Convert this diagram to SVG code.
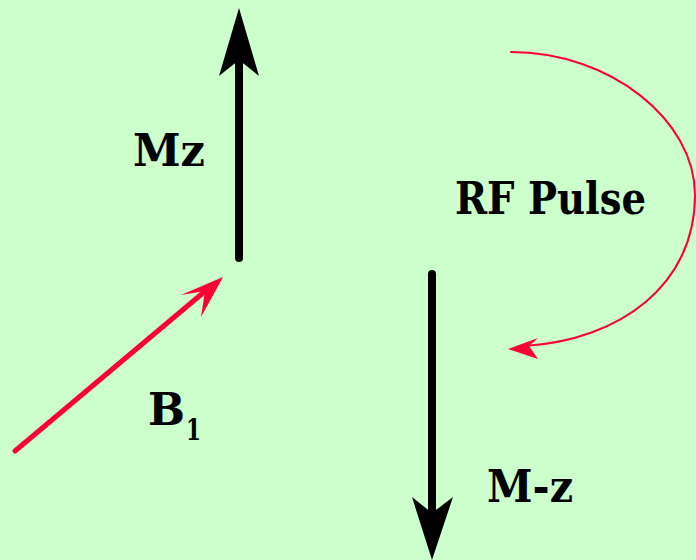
<svg xmlns="http://www.w3.org/2000/svg" width="696" height="560" viewBox="0 0 696 560">
<style>
.lbl{font-family:"DejaVu Serif Condensed","DejaVu Serif",serif;font-weight:bold;font-size:45px;fill:#000}
.sub{font-family:"DejaVu Serif Condensed","DejaVu Serif",serif;font-weight:bold;font-size:30px;fill:#000}
.blk{stroke:#000;stroke-width:8;stroke-linecap:round;fill:none}
.red{stroke:#ff0033;fill:none;stroke-linecap:round}
</style>
<rect width="696" height="560" fill="#ccffcc"/>
<g id="connectors">
<g id="mz-arrow">
<line class="blk" x1="239" y1="258" x2="239" y2="60"/>
<polygon points="239,8 259,76 239,60 219,76" fill="#000"/>
</g>
<g id="mminusz-arrow">
<line class="blk" x1="432" y1="274" x2="432" y2="512"/>
<polygon points="432,560 412,497 432,513 453,497" fill="#000"/>
</g>
<g id="b1-arrow">
<line class="red" stroke-width="5" x1="15" y1="451" x2="210" y2="287"/>
<polygon points="223,277 201,317 205,291 181,295" fill="#ff0033"/>
</g>
<g id="rf-arrow">
<path class="red" stroke-width="2" d="M511,52 C610,52 695,120 695,195 C695,285 620,340 525,346"/>
<polygon points="508,349 538,338 529,346 538,359" fill="#ff0033"/>
</g>
</g>
<g id="node-mz"><text class="lbl" x="133" y="166" textLength="72" lengthAdjust="spacingAndGlyphs">Mz</text></g>
<g id="node-rf"><text class="lbl" x="455" y="214" textLength="191" lengthAdjust="spacingAndGlyphs">RF Pulse</text></g>
<g id="node-b1"><text class="lbl" x="148" y="425" textLength="37" lengthAdjust="spacingAndGlyphs">B</text><text class="sub" x="186" y="440" textLength="15" lengthAdjust="spacingAndGlyphs">1</text></g>
<g id="node-mmz"><text class="lbl" x="487" y="502" textLength="86" lengthAdjust="spacingAndGlyphs">M-z</text></g>
</svg>
